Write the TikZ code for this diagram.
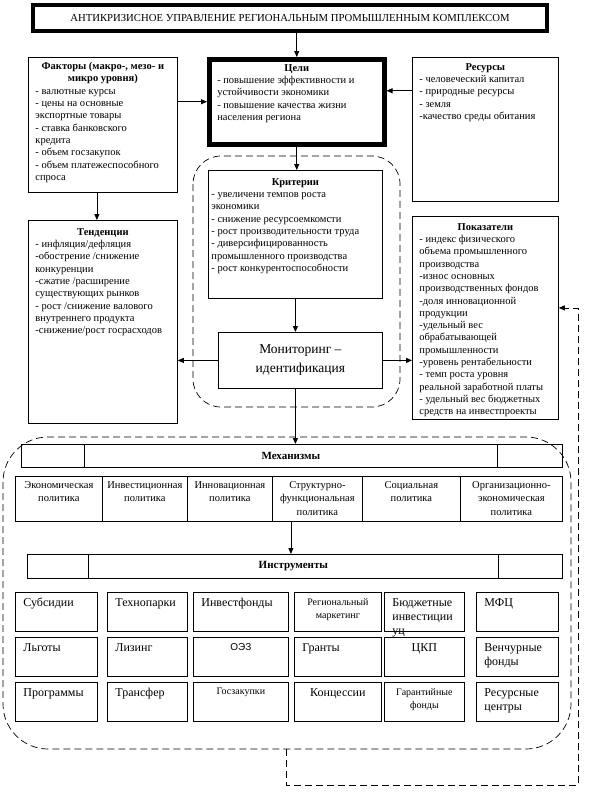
\documentclass[tikz,border=0pt]{standalone}
\usepackage{fontspec}
\setmainfont{Liberation Serif}
\setsansfont{Liberation Sans}
\usepackage{tikz}
\usetikzlibrary{arrows.meta}
\newcommand{\tbox}[3]{\parbox[t][#2][t]{#1}{\raggedright#3}}
\newcommand{\hd}[1]{{\centering\bfseries #1\par}}

\begin{document}
\begin{tikzpicture}[x=1pt,y=-1pt,line width=0.8pt,
     blk/.style={draw,anchor=north west,inner xsep=7pt,inner ysep=5pt,font=\fontsize{10.5}{12.3}\selectfont},
     fat/.style={blk,line width=4.5pt},
     ibox/.style={draw,anchor=north west,inner xsep=8pt,inner ysep=6pt,font=\fontsize{12}{14}\selectfont},
     sm/.style={font=\fontsize{10}{13}\selectfont},
     pol/.style={draw,anchor=north west,inner xsep=2pt,inner ysep=5pt,font=\fontsize{10.5}{13.5}\selectfont},
     hdr/.style={draw,anchor=north west,minimum height=23pt,font=\fontsize{11}{12}\selectfont\bfseries},
     arr/.style={-{Triangle[length=6pt,width=5pt]}},
     dashline/.style={dash pattern=on 7pt off 4pt,line width=0.7pt}]
   \useasboundingbox (0,0) rectangle (592,806);
   \node[fat,anchor=center,minimum width=514pt,minimum height=26pt,font=\fontsize{10.7}{13}\selectfont] (title) at (290,18)
     {АНТИКРИЗИСНОЕ УПРАВЛЕНИЕ РЕГИОНАЛЬНЫМ ПРОМЫШЛЕННЫМ КОМПЛЕКСОМ};
   \node[fat,inner xsep=8pt] (goals) at (207,57) {\tbox{159pt}{75pt}{\hd{Цели}- повышение эффективности и\\устойчивости экономики\\- повышение качества жизни\\населения региона}};
   \node[blk] (fac) at (28,57) {\tbox{135pt}{125pt}{\hd{Факторы (макро-, мезо- и\\микро уровня)}- валютные курсы\\- цены на основные\\экспортные товары\\- ставка банковского\\кредита\\- объем госзакупок\\- объем платежеспособного\\спроса}};
   \node[blk,inner ysep=6pt] (res) at (412,57) {\tbox{132pt}{132pt}{\hd{Ресурсы}- человеческий капитал\\- природные ресурсы\\- земля\\-качество среды обитания}};
   \node[blk,inner xsep=3pt,inner ysep=8pt] (crit) at (208,170) {\tbox{168pt}{112pt}{\hd{Критерии}- увеличени темпов роста\\экономики\\- снижение ресурсоемкомсти\\- рост производительности труда\\- диверсифицированность\\промышленного производства\\- рост конкурентоспособности}};
   \node[blk,minimum width=164pt,minimum height=56pt,align=center,font=\fontsize{13.5}{19}\selectfont] (mon) at (218,332) {Мониторинг –\\идентификация};
   \node[blk,inner ysep=8pt] (trend) at (28,220) {\tbox{135pt}{187pt}{\hd{Тенденции}- инфляция/дефляция\\-обострение /снижение\\конкуренции\\-сжатие /расширение\\существующих рынков\\- рост /снижение валового\\внутреннего продукта\\-снижение/рост госрасходов}};
   \node[blk,inner ysep=7pt] (ind) at (412,216) {\tbox{132pt}{189pt}{\hd{Показатели}- индекс физического\\объема промышленного\\производства\\-износ основных\\производственных фондов\\-доля инновационной\\продукции\\-удельный вес\\обрабатывающей\\промышленности\\-уровень рентабельности\\- темп роста уровня\\реальной заработной платы\\- удельный вес бюджетных\\средств на инвестпроекты}};
   \draw[dashline,rounded corners=28pt] (193,156) rectangle (400,407);
   \draw[dashline,rounded corners=45pt] (3,437) rectangle (571,749);
   \node[hdr,minimum width=63pt] (mechl) at (21,444) {};
   \node[hdr,minimum width=413pt] (mech) at (84,444) {Механизмы};
   \node[hdr,minimum width=65pt] (mechr) at (497,444) {};
   \node[pol] (pol1) at (15,476) {\tbox{83pt}{35pt}{\centering Экономическая\\политика}};
   \node[pol] (pol2) at (102,476) {\tbox{81pt}{35pt}{\centering Инвестиционная\\политика}};
   \node[pol] (pol3) at (187,476) {\tbox{81pt}{35pt}{\centering Инновационная\\политика}};
   \node[pol] (pol4) at (272,476) {\tbox{86pt}{35pt}{\centering Структурно-\\функциональная\\политика}};
   \node[pol] (pol5) at (362,476) {\tbox{94pt}{35pt}{\centering Социальная\\политика}};
   \node[pol] (pol6) at (460,476) {\tbox{98pt}{35pt}{\centering Организационно-\\экономическая\\политика}};
   \node[hdr,minimum width=61pt,minimum height=24pt] (instl) at (27,554) {};
   \node[hdr,minimum width=410pt,minimum height=24pt] (inst) at (88,554) {Инструменты};
   \node[hdr,minimum width=64pt,minimum height=24pt] (instr) at (498,554) {};
   \node[ibox] (subs) at (15,592) {\tbox{66pt}{27pt}{Субсидии}};
   \node[ibox] (techp) at (107,592) {\tbox{64pt}{27pt}{Технопарки}};
   \node[ibox] (invf) at (193,592) {\tbox{79pt}{27pt}{Инвестфонды}};
   \node[ibox,sm] (rmark) at (294,592) {\tbox{71pt}{27pt}{\centering Региональный\\маркетинг}};
   \node[ibox] (budg) at (384,592) {\tbox{64pt}{27pt}{Бюджетные\\инвестиции\\уц}};
   \node[ibox] (mfc) at (476,592) {\tbox{66pt}{27pt}{МФЦ}};
   \node[ibox] (lgot) at (15,637) {\tbox{66pt}{27pt}{Льготы}};
   \node[ibox] (lease) at (107,637) {\tbox{64pt}{27pt}{Лизинг}};
   \node[ibox,sm] (oez) at (193,637) {\tbox{79pt}{27pt}{\centering\sffamily ОЭЗ}};
   \node[ibox] (grant) at (294,637) {\tbox{71pt}{27pt}{Гранты}};
   \node[ibox] (ckp) at (384,637) {\tbox{64pt}{27pt}{\centering ЦКП}};
   \node[ibox] (vent) at (476,637) {\tbox{66pt}{27pt}{Венчурные\\фонды}};
   \node[ibox] (prog) at (15,682) {\tbox{66pt}{27pt}{Программы}};
   \node[ibox] (transf) at (107,682) {\tbox{64pt}{27pt}{Трансфер}};
   \node[ibox,sm] (goszak) at (193,682) {\tbox{79pt}{27pt}{\centering Госзакупки}};
   \node[ibox] (conc) at (294,682) {\tbox{71pt}{27pt}{\centering Концессии}};
   \node[ibox,sm] (guar) at (384,682) {\tbox{64pt}{27pt}{\centering Гарантийные\\фонды}};
   \node[ibox] (resc) at (476,682) {\tbox{66pt}{27pt}{Ресурсные\\центры}};
   \coordinate (fbstart) at (286,749);
   \coordinate (fbturn) at (578,785);
   \draw[arr] (title.south -| goals.north) -- (goals.north);
   \draw[arr] (goals.west -| fac.east) -- (goals.west);
   \draw[arr] ([yshift=11pt]res.west |- goals.east) -- ([yshift=11pt]goals.east);
   \draw[arr] (goals.south) -- (goals.south |- crit.north);
   \draw[arr] ([xshift=-6pt]fac.south) -- ([xshift=-6pt]trend.north);
   \draw[arr] (crit.south) -- (crit.south |- mon.north);
   \draw[arr] (mon.west) -- (mon.west -| trend.east);
   \draw[arr] (mon.east) -- (mon.east -| ind.west);
   \draw[arr] (crit.south |- mon.south) -- (crit.south |- mech.north);
   \draw[arr] (mech.north |- pol1.south) -- (mech.north |- inst.north);
   \draw[dashline,arr] (fbstart) |- (fbturn) |- ([yshift=10pt]ind.east);
\end{tikzpicture}
\end{document}
